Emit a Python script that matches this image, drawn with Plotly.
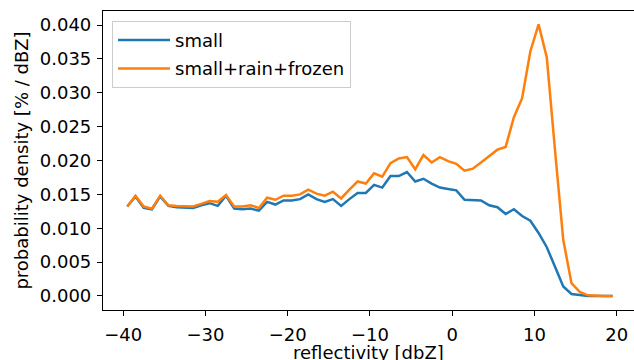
import plotly.graph_objects as go

# Reflectivity bin centres [dBZ]
reflectivity = [
    -39.5, -38.5, -37.5, -36.5, -35.5, -34.5, -33.5, -32.5, -31.5, -30.5,
    -29.5, -28.5, -27.5, -26.5, -25.5, -24.5, -23.5, -22.5, -21.5, -20.5,
    -19.5, -18.5, -17.5, -16.5, -15.5, -14.5, -13.5, -12.5, -11.5, -10.5,
    -9.5, -8.5, -7.5, -6.5, -5.5, -4.5, -3.5, -2.5, -1.5, -0.5,
    0.5, 1.5, 2.5, 3.5, 4.5, 5.5, 6.5, 7.5, 8.5, 9.5,
    10.5, 11.5, 12.5, 13.5, 14.5, 15.5, 16.5, 17.5, 18.5, 19.5,
]

# Probability density [% / dBZ] for the "small" category only
pdf_small = [
    0.0132, 0.0147, 0.0130, 0.0128, 0.0147, 0.0133, 0.0131, 0.0130, 0.0130, 0.0134,
    0.0137, 0.0133, 0.0148, 0.0129, 0.0128, 0.0129, 0.0126, 0.0139, 0.0135, 0.0141,
    0.0141, 0.0143, 0.0150, 0.0143, 0.0139, 0.0143, 0.0133, 0.0143, 0.0152, 0.0152,
    0.0164, 0.0160, 0.0177, 0.0177, 0.0183, 0.0169, 0.0173, 0.0166, 0.0160, 0.0158,
    0.0156, 0.0142, 0.0142, 0.0141, 0.0134, 0.0131, 0.0121, 0.0128, 0.0118, 0.0111,
    0.0093, 0.0072, 0.0043, 0.0014, 0.0003, 0.0001, 0.0, 0.0, 0.0, 0.0,
]

# Probability density [% / dBZ] for small + rain + frozen combined
pdf_all = [
    0.0132, 0.0148, 0.0132, 0.0129, 0.0148, 0.0134, 0.0133, 0.0132, 0.0132, 0.0136,
    0.0140, 0.0139, 0.0149, 0.0132, 0.0132, 0.0134, 0.0130, 0.0145, 0.0142, 0.0148,
    0.0148, 0.0150, 0.0157, 0.0151, 0.0148, 0.0154, 0.0144, 0.0157, 0.0169, 0.0166,
    0.0181, 0.0176, 0.0196, 0.0203, 0.0205, 0.0187, 0.0208, 0.0197, 0.0205, 0.0199,
    0.0195, 0.0185, 0.0188, 0.0197, 0.0206, 0.0216, 0.0220, 0.0264, 0.0292, 0.0361,
    0.0401, 0.0352, 0.0215, 0.0083, 0.0019, 0.0006, 0.0001, 0.0, 0.0, 0.0,
]

x_ticks = [-40, -30, -20, -10, 0, 10, 20]
y_ticks = [0.000, 0.005, 0.010, 0.015, 0.020, 0.025, 0.030, 0.035, 0.040]

FONT = "DejaVu Sans"
BLUE = "#1f77b4"
ORANGE = "#ff7f0e"

fig = go.Figure()
fig.add_trace(go.Scatter(
    x=reflectivity, y=pdf_small, mode="lines", name="small",
    line=dict(color=BLUE, width=2.5), legendgroup="a",
))
fig.add_trace(go.Scatter(
    x=reflectivity, y=pdf_all, mode="lines", name="small+rain+frozen",
    line=dict(color=ORANGE, width=2.5), legendgroup="b",
))

axis_common = dict(
    showgrid=False, zeroline=False, showline=True, linecolor="black",
    linewidth=1.2, ticks="outside", ticklen=5, tickwidth=1.2, tickcolor="black",
    tickfont=dict(family=FONT, size=18, color="black"),
)

fig.update_xaxes(
    **axis_common,
    range=[-42.45, 22.10], tickvals=x_ticks, mirror=True,
    ticklabelstandoff=3,
)
fig.update_yaxes(
    **axis_common,
    range=[-0.00207, 0.04207], tickvals=y_ticks, tickformat=".3f",
    ticklabelstandoff=2,
    title=dict(text="probability density [% / dBZ]", standoff=6,
               font=dict(family=FONT, size=18, color="black")),
)

# x-axis title sits low in the bottom margin, close to the page edge
fig.add_annotation(
    text="reflectivity [dbZ]", xref="paper", yref="paper",
    x=0.5, y=-0.143, xanchor="center", yanchor="middle",
    showarrow=False, font=dict(family=FONT, size=18, color="black"),
)

fig.update_layout(
    width=634, height=360,
    margin=dict(l=103, r=0, t=11, b=50, autoexpand=False),
    paper_bgcolor="white", plot_bgcolor="white",
    font=dict(family=FONT, size=18, color="black"),
    showlegend=True,
    legend=dict(
        x=0.017, y=0.967, xanchor="left", yanchor="top",
        bgcolor="rgba(255,255,255,0.8)", bordercolor="#cccccc", borderwidth=1,
        font=dict(family=FONT, size=18, color="black"),
        tracegroupgap=2, itemwidth=52,
    ),
)

fig.write_html("out.html")
